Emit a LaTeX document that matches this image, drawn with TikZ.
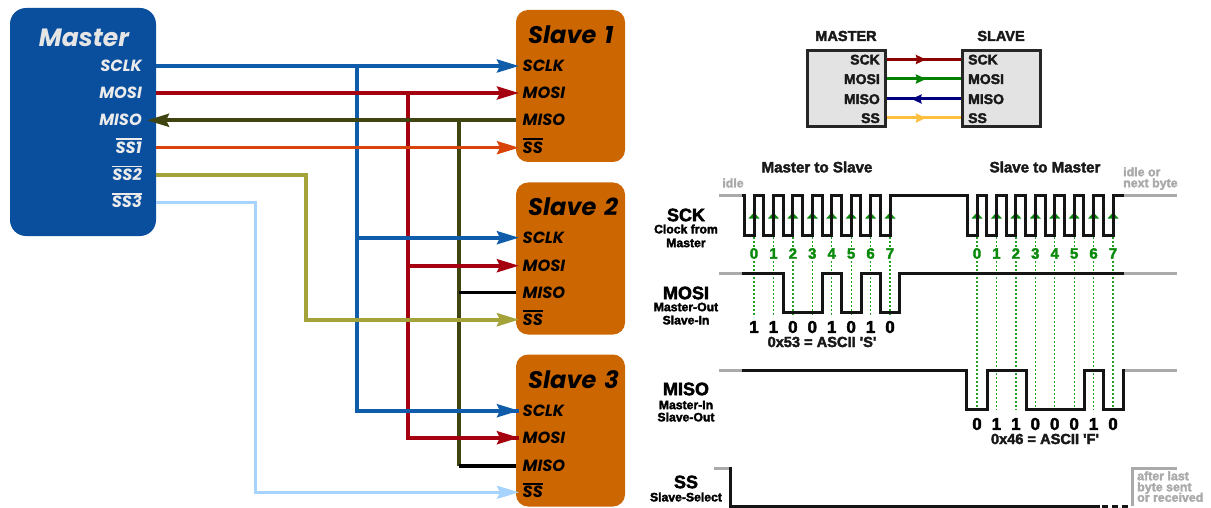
\documentclass[tikz,border=0pt]{standalone}
\usepackage{fontspec}
\usetikzlibrary{arrows.meta,decorations.markings}
\newfontfamily\pop[ItalicFont=* Bold Italic,BoldFont=* Bold]{Poppins}
\newcommand{\rfs}[1]{\font\rftmp="Liberation Sans/B:embolden=2.5" at #1pt \rftmp}
\newsavebox{\ovlbox}
\newcommand{\ovl}[1]{\sbox{\ovlbox}{#1}\rlap{\rule[13.2pt]{\wd\ovlbox}{1.7pt}}\usebox{\ovlbox}}
\definecolor{mblue}{HTML}{0A4F9E}
\definecolor{sorange}{HTML}{CC6600}
\definecolor{cblue}{HTML}{0F5CAA}
\definecolor{cred}{HTML}{A50010}
\definecolor{colive}{HTML}{3F4410}
\definecolor{cor}{HTML}{D9440A}
\definecolor{cyel}{HTML}{A3A33A}
\definecolor{clight}{HTML}{A6D4FF}
\definecolor{tgreen}{HTML}{0A8A0A}
\definecolor{dotgreen}{HTML}{22A022}
\definecolor{idlegrey}{HTML}{AAAAAA}
\definecolor{gold}{HTML}{FFC040}
\tikzset{
  masterbox/.style={fill=mblue,rounded corners=16pt,minimum width=146pt,minimum height=228pt,inner sep=0pt},
  slavebox/.style={fill=sorange,rounded corners=12pt,minimum width=109pt,minimum height=152pt,inner sep=0pt},
  mtitle/.style={font=\pop\itshape\fontsize{25}{25}\selectfont,text=black!10,inner sep=0pt},
  stitle/.style={font=\pop\itshape\fontsize{24}{24}\selectfont,text=black,anchor=west,inner sep=0pt},
  mpin/.style={font=\pop\itshape\fontsize{16.2}{16.2}\selectfont,text=black!8,anchor=east,text height=11pt,text depth=0pt,inner ysep=0pt,inner xsep=5pt},
  spin/.style={font=\pop\itshape\fontsize{16.2}{16.2}\selectfont,text=black,anchor=west,text height=11pt,text depth=0pt,inner ysep=0pt,inner xsep=3.5pt},
  wire/.style={line width=3.6pt},
  tipped/.style={-{Stealth[length=22pt,width=13pt,inset=3pt]}},
  chip/.style={fill=black!11,draw=black!85,line width=3pt,minimum width=78pt,minimum height=76pt,inner sep=0pt},
  rt/.style={font=\rfs{#1},inner sep=0pt,text=black!90},
  rt/.default=14,
  rpinl/.style={rt=14,anchor=east,text height=10pt,text depth=0pt,inner ysep=0pt,inner xsep=0pt},
  rpinr/.style={rt=14,anchor=west,text height=10pt,text depth=0pt,inner ysep=0pt,inner xsep=0pt},
  link/.style={line width=3pt,postaction={decorate}},
  fwd/.style={decoration={markings,mark=at position 0.53 with {\arrow{Stealth[length=10pt,width=9pt,inset=1pt]}}}},
  bwd/.style={decoration={markings,mark=at position 0.47 with {\arrow{Stealth[length=10pt,width=9pt,inset=1pt,reversed]}}}},
  wave/.style={line width=3pt,line join=miter,draw=black!92},
  idleline/.style={line width=3pt,draw=idlegrey},
  dots/.style={draw=dotgreen,line width=1.3pt,dash pattern=on 2pt off 2pt},
  gnum/.style={rt=15,text=tgreen},
  bnum/.style={rt=17,text=black},
  gtext/.style={rt=12.4,text=idlegrey,anchor=west,text height=8pt,text depth=1.5pt},
  sigbig/.style={rt=18,text=black},
  sigsmall/.style={rt=12.2,text=black},
}
\begin{document}
\begin{tikzpicture}[x=1pt,y=-1pt]
\useasboundingbox (0,0) rectangle (1211,508);
% ---- left: boxes
\node[masterbox] (master) at (83,122) {};
\node[slavebox] (slaveA) at (570.5,86) {};
\node[slavebox] (slaveB) at (570.5,258.5) {};
\node[slavebox] (slaveC) at (570.5,430.5) {};
\node[mtitle] (mt) at (84,38) {Master};
\node[stitle] (sta) at (528,35) {Slave\,\,1};
\node[stitle] (stb) at (528,207) {Slave\,\,2};
\node[stitle] (stc) at (528,380) {Slave\,\,3};
% master pins
\node[mpin] (msclk) at (147,66) {SCLK};
\node[mpin] (mmosi) at (147,93) {MOSI};
\node[mpin] (mmiso) at (147,120.3) {MISO};
\node[mpin] (mssa) at (147,147.7) {\ovl{SS1}};
\node[mpin] (mssb) at (147,175) {\ovl{SS2}};
\node[mpin] (mssc) at (147,202.3) {\ovl{SS3}};
% slave pins
\node[spin] (asclk) at (519,66) {SCLK};
\node[spin] (amosi) at (519,93) {MOSI};
\node[spin] (amiso) at (519,120.3) {MISO};
\node[spin] (ass) at (519,147.7) {\ovl{SS}};
\node[spin] (bsclk) at (519,237.7) {SCLK};
\node[spin] (bmosi) at (519,265.7) {MOSI};
\node[spin] (bmiso) at (519,292.7) {MISO};
\node[spin] (bss) at (519,319.7) {\ovl{SS}};
\node[spin] (csclk) at (519,410.7) {SCLK};
\node[spin] (cmosi) at (519,437.7) {MOSI};
\node[spin] (cmiso) at (519,465.7) {MISO};
\node[spin] (css) at (519,492.3) {\ovl{SS}};
% junctions
\coordinate (jclk) at (357,66);
\coordinate (jmosi) at (408,93);
\coordinate (jmiso) at (459,120.3);
\coordinate (jssb) at (306,175);
\coordinate (jssc) at (255,202.3);
% verticals
\draw[wire,cblue] (jclk) |- (csclk.west);
\draw[wire,cred] (jmosi) |- (cmosi.west);
\draw[wire,colive] (jmiso) -- (jmiso |- cmiso);
% horizontal branches
\draw[wire,cblue,tipped] (master.east |- msclk) -- (asclk.west);
\draw[wire,cred,tipped] (master.east |- mmosi) -- (amosi.west);
\draw[wire,colive,tipped] (slaveA.west |- amiso) -- (mmiso.east);
\draw[wire,cor,line width=3pt,tipped] (master.east |- mssa) -- (ass.west);
\draw[wire,cblue,tipped] (jclk |- bsclk) -- (bsclk.west);
\draw[wire,cred,tipped] (jmosi |- bmosi) -- (bmosi.west);
\draw[wire,black,line width=3pt] (jmiso |- bmiso) -- (slaveB.west |- bmiso);
\draw[wire,cyel,line width=4pt,tipped] (master.east |- mssb) -- (jssb) |- (bss.west);
\draw[wire,cblue,tipped] (jclk |- csclk) -- (csclk.west);
\draw[wire,cred,tipped] (jmosi |- cmosi) -- (cmosi.west);
\draw[wire,black] (jmiso |- cmiso) -- (slaveC.west |- cmiso);
\draw[wire,clight,line width=3pt,tipped] (master.east |- mssc) -- (jssc) |- (css.west);
% ---- top right
\node[chip] (chipM) at (846,89) {};
\node[chip] (chipS) at (1001.5,89) {};
\node[rt=14.5] (tM) at (846,36) {MASTER};
\node[rt=14.5] (tS) at (1001,36) {SLAVE};
\node[rpinl] (lsck) at (880,59.5) {SCK};
\node[rpinl] (lmosi) at (880,79) {MOSI};
\node[rpinl] (lmiso) at (880,99) {MISO};
\node[rpinl] (lss) at (880,118) {SS};
\node[rpinr] (rsck) at (968,59.5) {SCK};
\node[rpinr] (rmosi) at (968,79) {MOSI};
\node[rpinr] (rmiso) at (968,99) {MISO};
\node[rpinr] (rss) at (968,118) {SS};
\draw[link,fwd,draw=red!55!black] (chipM.east |- lsck) -- (chipS.west |- rsck);
\draw[link,fwd,draw=green!50!black] (chipM.east |- lmosi) -- (chipS.west |- rmosi);
\draw[link,bwd,draw=blue!50!black] (chipM.east |- lmiso) -- (chipS.west |- rmiso);
\draw[link,fwd,draw=gold] (chipM.east |- lss) -- (chipS.west |- rss);
% ---- timing: dotted guides
\foreach \xa/\yend in {754/317,977/410}{
  \foreach \k in {0,...,7}{
    \pgfmathsetmacro{\xx}{\xa+19.43*\k}
    \draw[dots] (\xx,237) -- (\xx,247);
    \draw[dots] (\xx,261) -- (\xx,\yend);
    \node[gnum] (g\xa n\k) at (\xx,253.5) {\k};
    \fill[tgreen] (\xx-5.5,218.5) -- (\xx+5.5,218.5) -- (\xx,212.5) -- cycle;
  }
}
% idle stubs
\draw[idleline] (719,196) -- (743,196);
\draw[idleline] (1124,196) -- (1177,196);
\draw[idleline] (719,273.3) -- (743,273.3);
\draw[idleline] (1124,273.3) -- (1177,273.3);
\draw[idleline] (719,370.7) -- (743,370.7);
\draw[idleline] (1124,370.7) -- (1177,370.7);
\draw[idleline] (714,468.3) -- (729,468.3);
\draw[idleline] (1132,506) -- (1132,468.3) -- (1177,468.3);
% clock
\draw[wave] (742,196)
  foreach \k in {0,...,7} { -- ({744.3+19.43*\k},196) -- ({744.3+19.43*\k},235) -- ({754+19.43*\k},235) -- ({754+19.43*\k},196) }
  foreach \k in {0,...,7} { -- ({967.3+19.43*\k},196) -- ({967.3+19.43*\k},235) -- ({977+19.43*\k},235) -- ({977+19.43*\k},196) }
  -- (1124,196);
% MOSI
\draw[wave] (742,273.3) -- (783.3,273.3) -- (783.3,312.7) -- (822,312.7) -- (822,273.3) -- (841.7,273.3) -- (841.7,312.7) -- (861,312.7) -- (861,273.3) -- (880.7,273.3) -- (880.7,312.7) -- (899.3,312.7) -- (899.3,273.3) -- (1124,273.3);
% MISO
\draw[wave] (742,370.7) -- (966.7,370.7) -- (966.7,409.3) -- (987.3,409.3) -- (987.3,370.7) -- (1026,370.7) -- (1026,409.3) -- (1084,409.3) -- (1084,370.7) -- (1103.3,370.7) -- (1103.3,409.3) -- (1123,409.3) -- (1123,370.7) -- (1125,370.7);
% SS
\draw[wave] (728.5,468.3) -- (730,468.3) -- (730,506) -- (1100,506);
\draw[wave] (1102,506) -- (1108,506);
\draw[wave] (1112,506) -- (1118,506);
\draw[wave] (1122,506) -- (1128,506);
% bit labels
\foreach \k/\b in {0/1,1/1,2/0,3/0,4/1,5/0,6/1,7/0}{
  \node[bnum] (mb\k) at ({754+19.43*\k},327) {\b};
}
\foreach \k/\b in {0/0,1/1,2/1,3/0,4/0,5/0,6/1,7/0}{
  \node[bnum] (sb\k) at ({977+19.43*\k},424) {\b};
}
\node[rt=14.6] (hexa) at (822,342) {0x53 = ASCII 'S'};
\node[rt=14.6] (hexb) at (1045,439) {0x46 = ASCII 'F'};
% headings
\node[rt=15.1] (hm) at (817,167) {Master to Slave};
\node[rt=15.1] (hs) at (1045,167) {Slave to Master};
\node[rt=12.4,text=idlegrey] (idl) at (733,183) {idle};
\node[gtext] (ia) at (1123,173) {idle or};
\node[gtext] (ib) at (1123,184) {next byte};
\node[gtext] (aa) at (1137,477) {after last};
\node[gtext] (ab) at (1137,488) {byte sent};
\node[gtext] (ac) at (1137,498.5) {or received};
% signal names
\node[sigbig] (nsck) at (686,215) {SCK};
\node[sigsmall] (nsa) at (686,229) {Clock from};
\node[sigsmall] (nsb) at (686,243) {Master};
\node[sigbig] (nmosi) at (686,293) {MOSI};
\node[sigsmall] (nma) at (686,307) {Master-Out};
\node[sigsmall] (nmb) at (686,320) {Slave-In};
\node[sigbig] (nmiso) at (686,389) {MISO};
\node[sigsmall] (nia) at (686,405) {Master-In};
\node[sigsmall] (nib) at (686,417) {Slave-Out};
\node[sigbig] (nss) at (686,482) {SS};
\node[sigsmall] (nsel) at (686,497) {Slave-Select};
\end{tikzpicture}
\end{document}
